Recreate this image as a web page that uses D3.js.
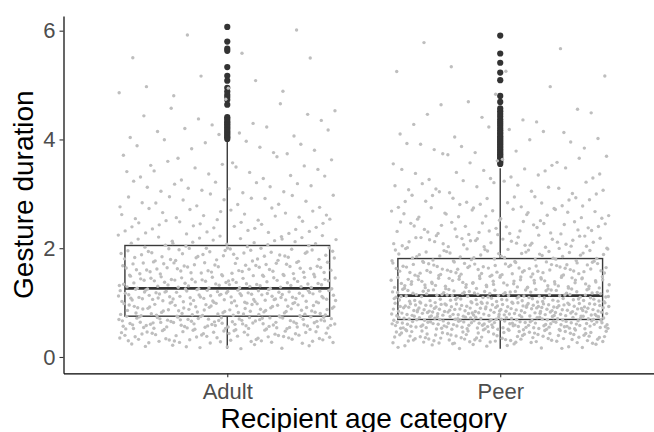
<!DOCTYPE html>
<html>
<head>
<meta charset="utf-8">
<script src="https://cdn.jsdelivr.net/npm/d3@7"></script>
<style>
  body { margin: 0; background: #fff; }
  text { font-family: "Liberation Sans", Arial, sans-serif; }
</style>
</head>
<body>
<div id="chart"></div>
<script>
var width = 654,
    height = 432;

var categories = ["Adult", "Peer"];
var yTicks = [0, 2, 4, 6];

// box stats (lower whisker, Q1, median, Q3, upper whisker)
var whiskerLow = [0.15, 0.15];
var q1 = [0.75, 0.69];
var medians = [1.26, 1.13];
var q3 = [2.05, 1.81];
var whiskerHigh = [3.97, 3.47];

var outliersAdult = [6.07, 5.80, 5.67, 5.63, 5.33, 5.17, 5.08, 4.95, 4.88, 4.82, 4.78, 4.73,
                     4.64, 4.41, 4.38, 4.34, 4.31, 4.28, 4.25, 4.22, 4.19, 4.16, 4.13, 4.10,
                     4.07, 4.04, 4.01];
var outliersPeer = [5.91, 5.58, 5.41, 5.23, 5.09, 4.80, 4.69, 4.57, 4.52, 4.47, 4.42, 4.37,
                    4.33, 4.29, 4.25, 4.21, 4.17, 4.13, 4.10, 4.06, 4.03, 4.00, 3.97, 3.94,
                    3.91, 3.88, 3.85, 3.82, 3.79, 3.76, 3.73, 3.70, 3.67, 3.64, 3.61, 3.58, 3.55];

// raw points, as counts per duration bin (bin i runs from binStarts[i] to binStarts[i+1])
var binStarts = [0.15, 0.25, 0.5, 0.75, 1.0, 1.25, 1.5, 1.75, 2.0, 2.25, 2.5, 2.75, 3.0,
                 3.25, 3.5, 3.75, 4.0, 4.25, 4.5, 4.75, 5.0, 5.25, 5.5, 5.75, 6.0, 6.1];
var countsAdult = [10, 60, 90, 75, 85, 65, 55, 45, 30, 24, 20, 17, 14, 12, 10, 9, 8, 6, 4, 5, 2, 1, 2, 1, 1];
var countsPeer  = [14, 88, 135, 140, 100, 78, 68, 48, 40, 32, 26, 21, 17, 13, 10, 9, 7, 6, 3, 2, 2, 2, 1, 1, 0];

var svg = d3.select("#chart").append("svg")
    .attr("width", width)
    .attr("height", height);

// discrete x: categories at 1 and 2, ggplot style 0.6 expansion
var x = d3.scaleLinear().domain([0.4, 2.6]).range([63.5, 664]);
var y = d3.scaleLinear().domain([-0.3, 6.27]).range([373.3, 16]);

var boxes = categories.map(function(c, i) {
  return {pos: i + 1, low: whiskerLow[i], q1: q1[i], med: medians[i], q3: q3[i], high: whiskerHigh[i],
          out: i === 0 ? outliersAdult : outliersPeer};
});

var boxHalf = 0.375;
var boxColor = "#3a3a3a";

var gBox = svg.append("g");

boxes.forEach(function(b) {
  var g = gBox.append("g");
  g.append("line")
    .attr("x1", x(b.pos)).attr("x2", x(b.pos))
    .attr("y1", y(b.q3)).attr("y2", y(b.high))
    .attr("stroke", boxColor).attr("stroke-width", 1.4);
  g.append("line")
    .attr("x1", x(b.pos)).attr("x2", x(b.pos))
    .attr("y1", y(b.q1)).attr("y2", y(b.low))
    .attr("stroke", boxColor).attr("stroke-width", 1.4);
  g.append("rect")
    .attr("x", x(b.pos - boxHalf))
    .attr("y", y(b.q3))
    .attr("width", x(b.pos + boxHalf) - x(b.pos - boxHalf))
    .attr("height", y(b.q1) - y(b.q3))
    .attr("fill", "#fff")
    .attr("stroke", boxColor).attr("stroke-width", 1.4);
  g.append("line")
    .attr("x1", x(b.pos - boxHalf)).attr("x2", x(b.pos + boxHalf))
    .attr("y1", y(b.med)).attr("y2", y(b.med))
    .attr("stroke", "#333").attr("stroke-width", 2.8);
  g.selectAll("circle")
    .data(b.out)
    .enter().append("circle")
    .attr("cx", x(b.pos))
    .attr("cy", function(d) { return y(d); })
    .attr("r", 3.1)
    .attr("fill", "#333");
});

// jittered points: spread through each bin with a Halton (2,3) sequence
var halton = function(i, base) {
  var f = 1, r = 0;
  while (i > 0) { f /= base; r += f * (i % base); i = Math.floor(i / base); }
  return r;
};
var points = [];
[countsAdult, countsPeer].forEach(function(counts, gi) {
  var n = gi * 517;
  counts.forEach(function(cnt, bi) {
    var lo = binStarts[bi], hi = binStarts[bi + 1];
    for (var k = 0; k < cnt; k++) {
      n++;
      var u = halton(n, 2),
          v = halton(n, 3);
      points.push({pos: gi + 1 + (u * 0.8 - 0.4), val: lo + v * (hi - lo)});
    }
  });
});

svg.append("g").selectAll("circle")
  .data(points)
  .enter().append("circle")
  .attr("cx", function(d) { return x(d.pos); })
  .attr("cy", function(d) { return y(d.val); })
  .attr("r", 1.7)
  .attr("fill", "#bebebe");

// axes
var yAxis = svg.append("g")
  .attr("transform", "translate(" + x(0.4) + ",0)")
  .call(d3.axisLeft(y).tickValues(yTicks).tickFormat(d3.format("d"))
    .tickSize(4).tickSizeOuter(0).tickPadding(4));

var xAxis = svg.append("g")
  .attr("transform", "translate(0," + y(-0.3) + ")")
  .call(d3.axisBottom(x).tickValues([1, 2]).tickFormat(function(d) { return categories[d - 1]; })
    .tickSize(4).tickSizeOuter(0).tickPadding(6));

[yAxis, xAxis].forEach(function(ax) {
  ax.select(".domain").attr("stroke", "#000").attr("stroke-width", 1.2);
  ax.selectAll(".tick line").attr("stroke", "#333").attr("stroke-width", 1.1);
  ax.selectAll(".tick text")
    .style("font-family", "'Liberation Sans', Arial, sans-serif")
    .style("font-size", "22px")
    .attr("fill", "#4d4d4d");
});

svg.append("text")
  .attr("x", (x(0.4) + x(2.6)) / 2)
  .attr("y", 428)
  .attr("text-anchor", "middle")
  .style("font-size", "28px")
  .attr("fill", "#000")
  .text("Recipient age category");

svg.append("text")
  .attr("transform", "translate(33," + (y(-0.3) + y(6.27)) / 2 + ") rotate(-90)")
  .attr("text-anchor", "middle")
  .style("font-size", "28px")
  .attr("fill", "#000")
  .text("Gesture duration");
</script>
</body>
</html>
